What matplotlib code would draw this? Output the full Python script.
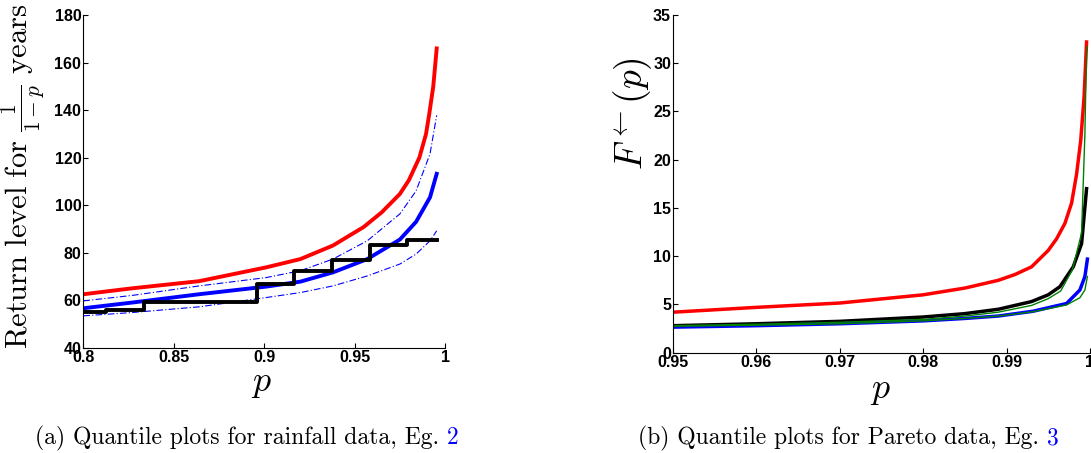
import matplotlib
matplotlib.use("Agg")
import matplotlib.pyplot as plt
import numpy as np

plt.rcParams["mathtext.fontset"] = "cm"

# (a) rainfall data
p_red_a = [0.800, 0.827, 0.864, 0.901, 0.920, 0.938, 0.955, 0.965, 0.975, 0.980, 0.9858, 0.9895, 0.9913, 0.9935, 0.9954]
red_a = [62.5, 65.0, 68.0, 73.8, 77.3, 83.0, 90.8, 97.0, 104.7, 110.5, 120.0, 130.0, 138.5, 150.0, 166.0]
p_a = [0.800, 0.827, 0.864, 0.901, 0.920, 0.938, 0.957, 0.975, 0.984, 0.9917, 0.9954]
blue_a = [56.6, 59.0, 62.5, 65.7, 67.8, 71.7, 77.3, 85.5, 93.0, 103.3, 113.2]
upper_a = [59.7, 62.0, 66.0, 69.5, 72.4, 77.3, 85.0, 96.3, 106.0, 121.6, 137.8]
lower_a = [53.4, 54.8, 57.2, 61.1, 63.2, 66.0, 70.2, 75.2, 79.4, 85.0, 89.2]

step_p = [0.800, 0.8125, 0.8333, 0.8958, 0.9167, 0.9375, 0.9583, 0.9792, 0.9954]
step_v = [55.2, 55.8, 59.3, 67.0, 72.4, 76.9, 83.2, 85.3, 85.3]

# (b) Pareto data
p_red_b = [0.95, 0.96, 0.97, 0.98, 0.985, 0.989, 0.991, 0.993, 0.995, 0.996, 0.997, 0.9978, 0.9984, 0.9989, 0.9993, 0.9996]
red_b = [4.2, 4.7, 5.15, 6.0, 6.7, 7.5, 8.1, 8.9, 10.6, 11.8, 13.4, 15.5, 18.5, 22.0, 26.5, 32.2]
p_blk_b = [0.95, 0.96, 0.97, 0.98, 0.985, 0.989, 0.993, 0.995, 0.9964, 0.998, 0.999, 0.9996]
blk_b = [2.8, 3.0, 3.25, 3.7, 4.05, 4.5, 5.3, 6.0, 6.84, 8.9, 11.3, 17.0]
p_gup_b = [0.95, 0.96, 0.97, 0.98, 0.985, 0.989, 0.993, 0.995, 0.9965, 0.9979, 0.999, 0.9994, 0.9996]
gup_b = [2.8, 2.95, 3.15, 3.45, 3.8, 4.2, 4.9, 5.6, 6.4, 8.6, 12.4, 22.7, 31.7]
p_lo_b = [0.95, 0.96, 0.97, 0.98, 0.985, 0.989, 0.9932, 0.9972, 0.9988, 0.9994, 0.9997]
blue_b = [2.65, 2.8, 3.0, 3.3, 3.55, 3.8, 4.3, 5.1, 6.5, 7.9, 9.7]
glo_b = [2.75, 2.85, 3.0, 3.3, 3.55, 3.8, 4.25, 4.95, 5.7, 6.5, 7.9]

fig = plt.figure(figsize=(10.91, 4.53), dpi=100)
ax1 = fig.add_axes([0.0764, 0.2325, 0.3315, 0.734])
ax2 = fig.add_axes([0.617, 0.2214, 0.382, 0.7455])

ax1.plot(p_a, upper_a, color="blue", lw=0.8, ls=(0, (6, 2, 1, 2)))
ax1.plot(p_a, lower_a, color="blue", lw=0.8, ls=(0, (6, 2, 1, 2)))
ax1.plot(p_red_a, red_a, color="red", lw=2.8)
ax1.plot(p_a, blue_a, color="blue", lw=2.8)
ax1.plot(step_p, step_v, color="black", lw=2.8, drawstyle="steps-post")
ax1.set_xlim(0.8, 1)
ax1.set_ylim(40, 180)
ax1.set_xticks([0.8, 0.85, 0.9, 0.95, 1])
ax1.set_xticklabels(["0.8", "0.85", "0.9", "0.95", "1"])
ax1.set_yticks(np.arange(40, 181, 20))

ax2.plot(p_red_b, red_b, color="red", lw=2.5)
ax2.plot(p_blk_b, blk_b, color="black", lw=2.5)
ax2.plot(p_lo_b, blue_b, color="blue", lw=2.5)
ax2.plot(p_gup_b, gup_b, color="green", lw=1.0)
ax2.plot(p_lo_b, glo_b, color="green", lw=1.0)
ax2.set_xlim(0.95, 1)
ax2.set_ylim(0, 35)
ax2.set_xticks([0.95, 0.96, 0.97, 0.98, 0.99, 1])
ax2.set_xticklabels(["0.95", "0.96", "0.97", "0.98", "0.99", "1"])
ax2.set_yticks(np.arange(0, 36, 5))

for ax in (ax1, ax2):
    ax.spines["top"].set_visible(False)
    ax.spines["right"].set_visible(False)
    ax.tick_params(direction="in", length=3.5, width=0.8, pad=1.5)
    for lab in ax.get_xticklabels() + ax.get_yticklabels():
        lab.set_fontfamily("Liberation Sans")
        lab.set_fontweight("bold")
        lab.set_fontsize(11.5)

fig.text(0.240, 0.155, r"$p$", fontsize=26, ha="center", va="center")
fig.text(0.807, 0.138, r"$p$", fontsize=26, ha="center", va="center")
fig.text(0.021, 0.611, r"$\mathrm{Return\ level\ for\ }\frac{1}{1-p}\mathrm{\ years}$",
         fontsize=22, rotation=90, ha="center", va="center")
fig.text(0.580, 0.75, r"$F^{\leftarrow}(p)$", fontsize=27, rotation=90, ha="center", va="center")

cap_a = fig.text(35 / 1091, 1 - 438 / 453, "(a) Quantile plots for rainfall data, Eg. ",
                 fontfamily="cmr10", fontsize=17, va="center")
cap_b = fig.text(638 / 1091, 1 - 438 / 453, "(b) Quantile plots for Pareto data, Eg. ",
                 fontfamily="cmr10", fontsize=17, va="center")
fig.canvas.draw()
r = fig.canvas.get_renderer()
for cap, num in ((cap_a, "2"), (cap_b, "3")):
    bb = cap.get_window_extent(r)
    fig.text(bb.x1 / fig.bbox.width, 1 - 438 / 453, num, color="blue",
             fontfamily="cmr10", fontsize=17, va="center")

fig.savefig("out.png", dpi=100)
